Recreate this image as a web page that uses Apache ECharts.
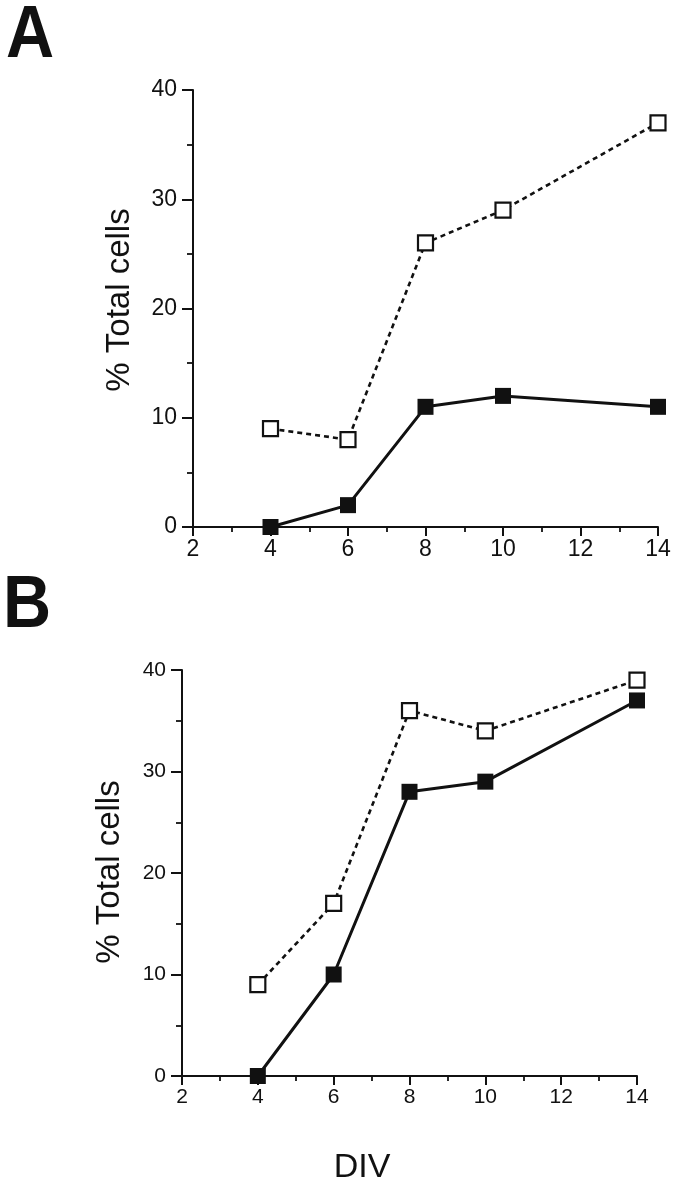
<!DOCTYPE html>
<html><head><meta charset="utf-8">
<script src="https://cdn.jsdelivr.net/npm/echarts@6/dist/echarts.min.js"></script>
<style>html,body{margin:0;padding:0;background:#fff}#c{width:677px;height:1199px}</style>
</head><body><div id="c"></div>
<script>
const days = [4, 6, 8, 10, 14];
const aOpen = [9, 8, 26, 29, 37];
const aFilled = [0, 2, 11, 12, 11];
const bOpen = [9, 17, 36, 34, 39];
const bFilled = [0, 10, 28, 29, 37];
const yTitle = '% Total cells';
const xTitle = 'DIV';

const FONT = 'Liberation Sans, Arial, Helvetica, sans-serif';
const chart = echarts.init(document.getElementById('c'), null, {renderer: 'canvas'});
const pair = (xs, ys) => xs.map((x, i) => [x, ys[i]]);

function xAx(idx, fs) {
  return {
    type: 'value', gridIndex: idx, min: 2, max: 14, interval: 2,
    axisLine: {show: true, lineStyle: {color: '#111', width: 2}},
    axisTick: {show: true, length: 9, lineStyle: {color: '#111', width: 2}},
    minorTick: {show: true, splitNumber: 2, length: 5, lineStyle: {color: '#111', width: 1.8}},
    splitLine: {show: false},
    axisLabel: {color: '#111', fontSize: fs, fontFamily: FONT, margin: 11}
  };
}
function yAx(idx, fs) {
  return {
    type: 'value', gridIndex: idx, min: 0, max: 40, interval: 10,
    axisLine: {show: true, lineStyle: {color: '#111', width: 2}},
    axisTick: {show: true, length: 11, lineStyle: {color: '#111', width: 2}},
    minorTick: {show: true, splitNumber: 2, length: 6, lineStyle: {color: '#111', width: 1.8}},
    splitLine: {show: false},
    axisLabel: {color: '#111', fontSize: fs, fontFamily: FONT, margin: 16}
  };
}
function openSeries(idx, ys, size) {
  return {
    type: 'line', xAxisIndex: idx, yAxisIndex: idx, data: pair(days, ys),
    symbol: 'rect', symbolSize: size, z: 3,
    lineStyle: {color: '#111', width: 2.6, type: [5, 4]},
    itemStyle: {color: '#fff', borderColor: '#111', borderWidth: 2.2}
  };
}
function filledSeries(idx, ys, size) {
  return {
    type: 'line', xAxisIndex: idx, yAxisIndex: idx, data: pair(days, ys),
    symbol: 'rect', symbolSize: size, z: 4,
    lineStyle: {color: '#111', width: 3},
    itemStyle: {color: '#111', borderColor: '#111', borderWidth: 0}
  };
}

chart.setOption({
  animation: false,
  grid: [
    {left: 193, top: 90, width: 465, height: 437},
    {left: 182, top: 670, width: 455, height: 406}
  ],
  xAxis: [xAx(0, 23), xAx(1, 21)],
  yAxis: [yAx(0, 23), yAx(1, 21)],
  series: [
    openSeries(0, aOpen, 15), filledSeries(0, aFilled, 16),
    openSeries(1, bOpen, 15), filledSeries(1, bFilled, 16)
  ],
  graphic: [
    {type: 'text', left: 6, top: 0, scaleX: 0.9, style: {text: 'A', font: '900 74px ' + FONT, fill: '#111'}},
    {type: 'text', left: 3, top: 570, scaleX: 0.9, style: {text: 'B', font: '900 74px ' + FONT, fill: '#111'}},
    {type: 'text', x: 120, y: 300, rotation: Math.PI / 2,
     style: {text: yTitle, font: '33px ' + FONT, fill: '#111', align: 'center', verticalAlign: 'middle'}},
    {type: 'text', x: 110, y: 872, rotation: Math.PI / 2,
     style: {text: yTitle, font: '33px ' + FONT, fill: '#111', align: 'center', verticalAlign: 'middle'}},
    {type: 'text', x: 362, y: 1168,
     style: {text: xTitle, font: '34px ' + FONT, fill: '#111', align: 'center', verticalAlign: 'middle'}}
  ]
});
</script></body></html>
